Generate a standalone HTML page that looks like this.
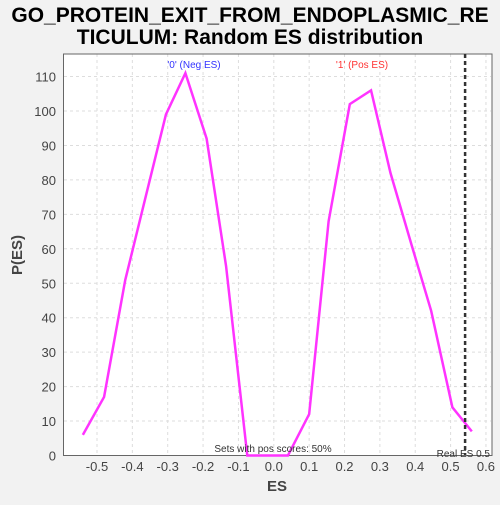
<!DOCTYPE html>
<html><head><meta charset="utf-8"><style>
body{margin:0;background:#f2f2f2;font-family:"Liberation Sans","DejaVu Sans",sans-serif}
</style></head><body>
<svg width="500" height="500" xmlns="http://www.w3.org/2000/svg">
<rect width="500" height="500" fill="#f2f2f2"/>
<text x="250" y="22" text-anchor="middle" font-size="21" font-weight="bold" fill="#000">GO_PROTEIN_EXIT_FROM_ENDOPLASMIC_RE</text>
<text x="250" y="44" text-anchor="middle" font-size="21" font-weight="bold" fill="#000">TICULUM: Random ES distribution</text>
<rect x="63.5" y="54" width="428.5" height="401.5" fill="#fff"/>
<g id="grid"></g>
<rect x="63.5" y="54" width="428.5" height="401.5" fill="none" stroke="#666"/>
<g id="axes"></g>
<polyline id="line" fill="none" stroke="#ff33ff" stroke-width="2.5"/>
<line id="real" stroke="#333" stroke-width="2.5" stroke-dasharray="4,3"/>
<text x="194" y="68" text-anchor="middle" font-size="10" fill="#3333ff">'0' (Neg ES)</text>
<text x="362" y="68" text-anchor="middle" font-size="10" fill="#ff3333">'1' (Pos ES)</text>
<text x="273" y="452" text-anchor="middle" font-size="10" fill="#333">Sets with pos scores: 50%</text>
<text x="490" y="457" text-anchor="end" font-size="10" fill="#333">Real ES 0.5</text>
<text x="277" y="491" text-anchor="middle" font-size="15" font-weight="bold" fill="#444">ES</text>
<text x="22" y="255" text-anchor="middle" font-size="15" font-weight="bold" fill="#444" transform="rotate(-90 22 255)">P(ES)</text>
</svg>
<script>
const xs=[-0.54,-0.48,-0.42,-0.365,-0.305,-0.25,-0.19,-0.135,-0.075,-0.015,0.04,0.1,0.155,0.215,0.275,0.33,0.39,0.445,0.505,0.56];
const ys=[6,17,51,74,99,111,92,55,0,0,0,12,68,102,106,82,61,42,14,7];
const xTicks=[-0.5,-0.4,-0.3,-0.2,-0.1,0.0,0.1,0.2,0.3,0.4,0.5,0.6];
const yTicks=[0,10,20,30,40,50,60,70,80,90,100,110];
const realES=0.541;
const X=v=>273.8+v*353.6, Y=v=>455.5-v*3.445;
const ns="http://www.w3.org/2000/svg";
const g=document.getElementById('grid'), a=document.getElementById('axes');
function mk(t,at,p){const e=document.createElementNS(ns,t);for(const k in at)e.setAttribute(k,at[k]);p.appendChild(e);return e;}
xTicks.forEach(v=>{
 const l=mk('line',{x1:X(v),x2:X(v),y1:54,y2:455,stroke:'#ddd','stroke-dasharray':'3,3'},g);
 
 
 const t=mk('text',{x:X(v),y:471,'text-anchor':'middle','font-size':13,fill:'#444'},a);
 t.textContent=v.toFixed(1);
 
 
});
yTicks.forEach(v=>{
 const l=mk('line',{x1:64,x2:491,y1:Y(v),y2:Y(v),stroke:'#ddd','stroke-dasharray':'3,3'},g);
 
 
 const t=mk('text',{x:56,y:Y(v)+5,'text-anchor':'end','font-size':13,fill:'#444'},a);
 t.textContent=v;
 
 
});
document.getElementById('line').setAttribute('points',xs.map((x,i)=>X(x)+','+Y(ys[i])).join(' '));
const r=document.getElementById('real');
r.setAttribute('x1',X(realES));r.setAttribute('x2',X(realES));r.setAttribute('y1',54);r.setAttribute('y2',455);
</script>
</body></html>
